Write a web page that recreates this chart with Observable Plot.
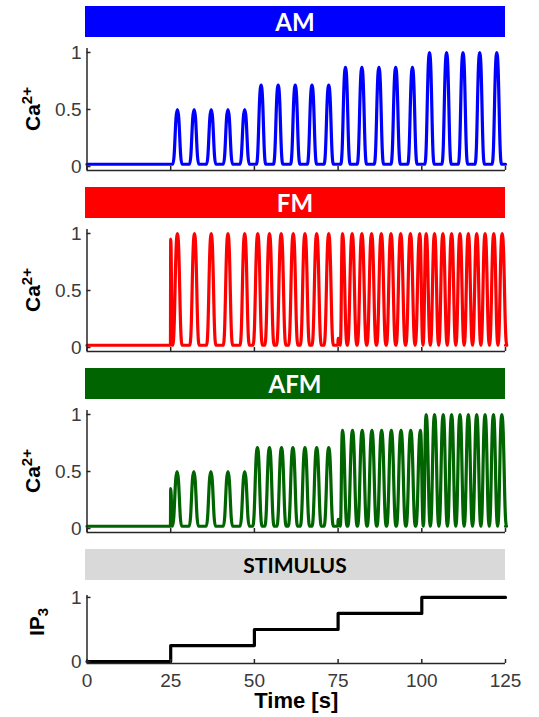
<!DOCTYPE html>
<html><head><meta charset="utf-8">
<script src="https://cdn.jsdelivr.net/npm/d3@7"></script>
<script src="https://cdn.jsdelivr.net/npm/@observablehq/plot@0.6"></script>
<style>
body{margin:0;background:#fff;}
#fig{position:relative;width:539px;height:717px;overflow:hidden;font-family:"Liberation Sans",Arial,sans-serif;}
.hdr{position:absolute;left:85px;width:420px;height:31px;display:flex;align-items:center;justify-content:center;font-family:Lato,"Open Sans",sans-serif;font-weight:700;line-height:1;}
.plot{position:absolute;left:0;}
.ylab{position:absolute;font-family:"Liberation Sans",Arial,sans-serif;font-weight:bold;font-size:21px;color:#000;transform:translate(-50%,-50%) rotate(-90deg);white-space:nowrap;line-height:1;}
.ylab sup{font-size:15px;vertical-align:0.55em;}
.ylab sub{font-size:15px;vertical-align:-0.3em;}
</style>
</head><body>
<div id="fig"></div>
<script>
// ---------- data ----------
const panelNames = ["AM", "FM", "AFM", "STIMULUS"];
const timeTicks = [0, 25, 50, 75, 100, 125];
const caTicks = [0, 0.5, 1];
const ip3Ticks = [0, 1];
const baseline = 0.02;

// AM: constant frequency, stepped amplitude
const amPeakTimes = [27.0, 32.0, 37.1, 42.1, 47.1, 52.0, 57.1, 62.2, 67.2, 72.2,
                     77.2, 82.1, 87.2, 92.2, 97.2, 102.3, 107.4, 112.3, 117.3, 122.4];
const amPeakHeights = [0.5, 0.5, 0.5, 0.5, 0.5, 0.715, 0.715, 0.715, 0.715, 0.715,
                       0.87, 0.87, 0.87, 0.87, 0.87, 1.0, 1.0, 1.0, 1.0, 1.0];
const amSpikeTimes = [];
const amSpikeHeights = [];

// FM: constant amplitude, stepped frequency
const fmPeakTimes = [27.0, 32.1, 37.1, 42.1, 47.1,
                     51.0, 54.5, 58.0, 61.6, 65.1, 68.6, 72.2,
                     76.3, 79.2, 82.1, 85.0, 87.9, 90.8, 93.7, 96.6, 99.4,
                     101.3, 103.8, 106.3, 108.9, 111.4, 113.9, 116.4, 118.9, 121.5, 124.0];
const fmPeakHeights = [1, 1, 1, 1, 1,
                       1, 1, 1, 1, 1, 1, 1,
                       1, 1, 1, 1, 1, 1, 1, 1, 1,
                       1, 1, 1, 1, 1, 1, 1, 1, 1, 1];
const fmSpikeTimes = [25.0, 75.0];
const fmSpikeHeights = [0.95, 0.08];

// AFM: both stepped
const afmPeakTimes = [26.9, 31.9, 37.0, 42.1, 47.1,
                      50.9, 54.5, 58.1, 61.5, 65.1, 68.6, 72.2,
                      76.3, 79.3, 82.2, 85.1, 88.0, 90.9, 93.8, 96.7, 99.6,
                      101.3, 103.8, 106.4, 108.9, 111.4, 113.9, 116.4, 118.9, 121.4, 123.9];
const afmPeakHeights = [0.5, 0.5, 0.5, 0.5, 0.5,
                        0.71, 0.71, 0.71, 0.71, 0.71, 0.71, 0.71,
                        0.86, 0.86, 0.86, 0.86, 0.86, 0.86, 0.86, 0.86, 0.86,
                        1, 1, 1, 1, 1, 1, 1, 1, 1, 1];
const afmSpikeTimes = [25.0, 75.0];
const afmSpikeHeights = [0.35, 0.08];

// stimulus (IP3 steps)
const stimTimes = [0, 25, 50, 75, 100, 125];
const stimValues = [0, 0.25, 0.5, 0.75, 1, 1];

// ---------- styling ----------
const colors = ["#0000ff", "#ff0000", "#006400", "#d9d9d9"];
const textColors = ["#fff", "#fff", "#fff", "#000"];
const headerSizes = [24, 24, 24, 21];
const peakHalf = 1.4;      // shape of a spike (seconds)
const spikeUp = 0.08, spikeDown = 0.5;
const axisColor = "#262626";

// build a trace (vertices) from peaks; the curve option draws the shape
function trace(peakT, peakH, spikeT, spikeH) {
  const ev = peakT.map((t, i) => ({t, h: peakH[i], up: peakHalf, down: peakHalf}))
    .concat(spikeT.map((t, i) => ({t, h: spikeH[i], up: spikeUp, down: spikeDown})))
    .sort((a, b) => a.t - b.t);
  const pts = [{t: 0, v: baseline}];
  let prevRight = -Infinity, prevT = 0;
  for (const e of ev) {
    const l = e.t - e.up, r = e.t + e.down;
    if (l < prevRight) { pts.pop(); pts.push({t: (prevT + e.t) / 2, v: baseline}); }
    else pts.push({t: l, v: baseline});
    pts.push({t: e.t, v: e.h});
    pts.push({t: r, v: baseline});
    prevRight = r; prevT = e.t;
  }
  pts.push({t: 125, v: baseline});
  return pts;
}

const fig = document.getElementById("fig");
const step = 181;
const baseStyle = {fontFamily: "'Liberation Sans', Arial, sans-serif", fontSize: "19px", color: "#3a3a3a", background: "transparent", overflow: "visible"};

function addHeader(i) {
  const d = document.createElement("div");
  d.className = "hdr";
  d.style.top = (6 + step * i) + "px";
  d.style.background = colors[i];
  d.style.color = textColors[i];
  d.style.fontSize = headerSizes[i] + "px";
  d.textContent = panelNames[i];
  fig.appendChild(d);
}

function addLabel(html, cx, cy) {
  const d = document.createElement("div");
  d.className = "ylab";
  d.style.left = cx + "px";
  d.style.top = cy + "px";
  d.innerHTML = html;
  fig.appendChild(d);
}

const yLo = -0.035, yHi = 1.035;
const traces = [
  trace(amPeakTimes, amPeakHeights, amSpikeTimes, amSpikeHeights),
  trace(fmPeakTimes, fmPeakHeights, fmSpikeTimes, fmSpikeHeights),
  trace(afmPeakTimes, afmPeakHeights, afmSpikeTimes, afmSpikeHeights)
];

traces.forEach((tr, i) => {
  addHeader(i);
  const chart = Plot.plot({
    width: 539, height: 138,
    marginLeft: 86.5, marginRight: 34, marginTop: 8, marginBottom: 8,
    x: {domain: [0, 125]},
    y: {domain: [yLo, yHi]},
    style: baseStyle,
    marks: [
      Plot.line(tr, {x: "t", y: "v", stroke: colors[i], strokeWidth: 3.2, curve: "bump-x"}),
      Plot.ruleX([0], {stroke: axisColor, strokeWidth: 1.5}),
      Plot.ruleY([yLo], {stroke: axisColor, strokeWidth: 1.5}),
      Plot.axisX({ticks: timeTicks, tickSize: -4, tickFormat: () => "", label: null, stroke: axisColor, strokeWidth: 1.5}),
      Plot.axisY({ticks: caTicks, tickSize: -4, tickPadding: 9.5, tickFormat: d => String(d), label: null, stroke: axisColor, strokeWidth: 1.5})
    ]
  });
  chart.classList.add("plot");
  chart.style.top = (40 + step * i) + "px";
  fig.appendChild(chart);
  addLabel("Ca<sup>2+</sup>", 31, 109 + step * i);
});

// stimulus panel
addHeader(3);
const stim = stimTimes.map((t, i) => ({t, v: stimValues[i]}));
const sLo = -0.03, sHi = 1.03;
const stimChart = Plot.plot({
  width: 539, height: 134,
  marginLeft: 86.5, marginRight: 34, marginTop: 12, marginBottom: 54,
  x: {domain: [0, 125]},
  y: {domain: [sLo, sHi]},
  style: baseStyle,
  marks: [
    Plot.line(stim, {x: "t", y: "v", stroke: "#000", strokeWidth: 3.2, curve: "step-after"}),
    Plot.ruleX([0], {stroke: axisColor, strokeWidth: 1.5}),
    Plot.ruleY([sLo], {stroke: axisColor, strokeWidth: 1.5}),
    Plot.axisX({ticks: timeTicks, tickSize: -4, tickPadding: 14, tickFormat: d => String(d), label: null, stroke: axisColor, strokeWidth: 1.5}),
    Plot.axisY({ticks: ip3Ticks, tickSize: -4, tickPadding: 9.5, tickFormat: d => String(d), label: null, stroke: axisColor, strokeWidth: 1.5}),
    Plot.text(["Time [s]"], {text: d => d, frameAnchor: "bottom", lineAnchor: "middle", dy: 37, fontWeight: "bold", fontSize: 22, fill: "#000"})
  ]
});
stimChart.classList.add("plot");
stimChart.style.top = (40 + step * 3) + "px";
fig.appendChild(stimChart);
addLabel("IP<sub>3</sub>", 38, 622);
</script>
</body></html>
